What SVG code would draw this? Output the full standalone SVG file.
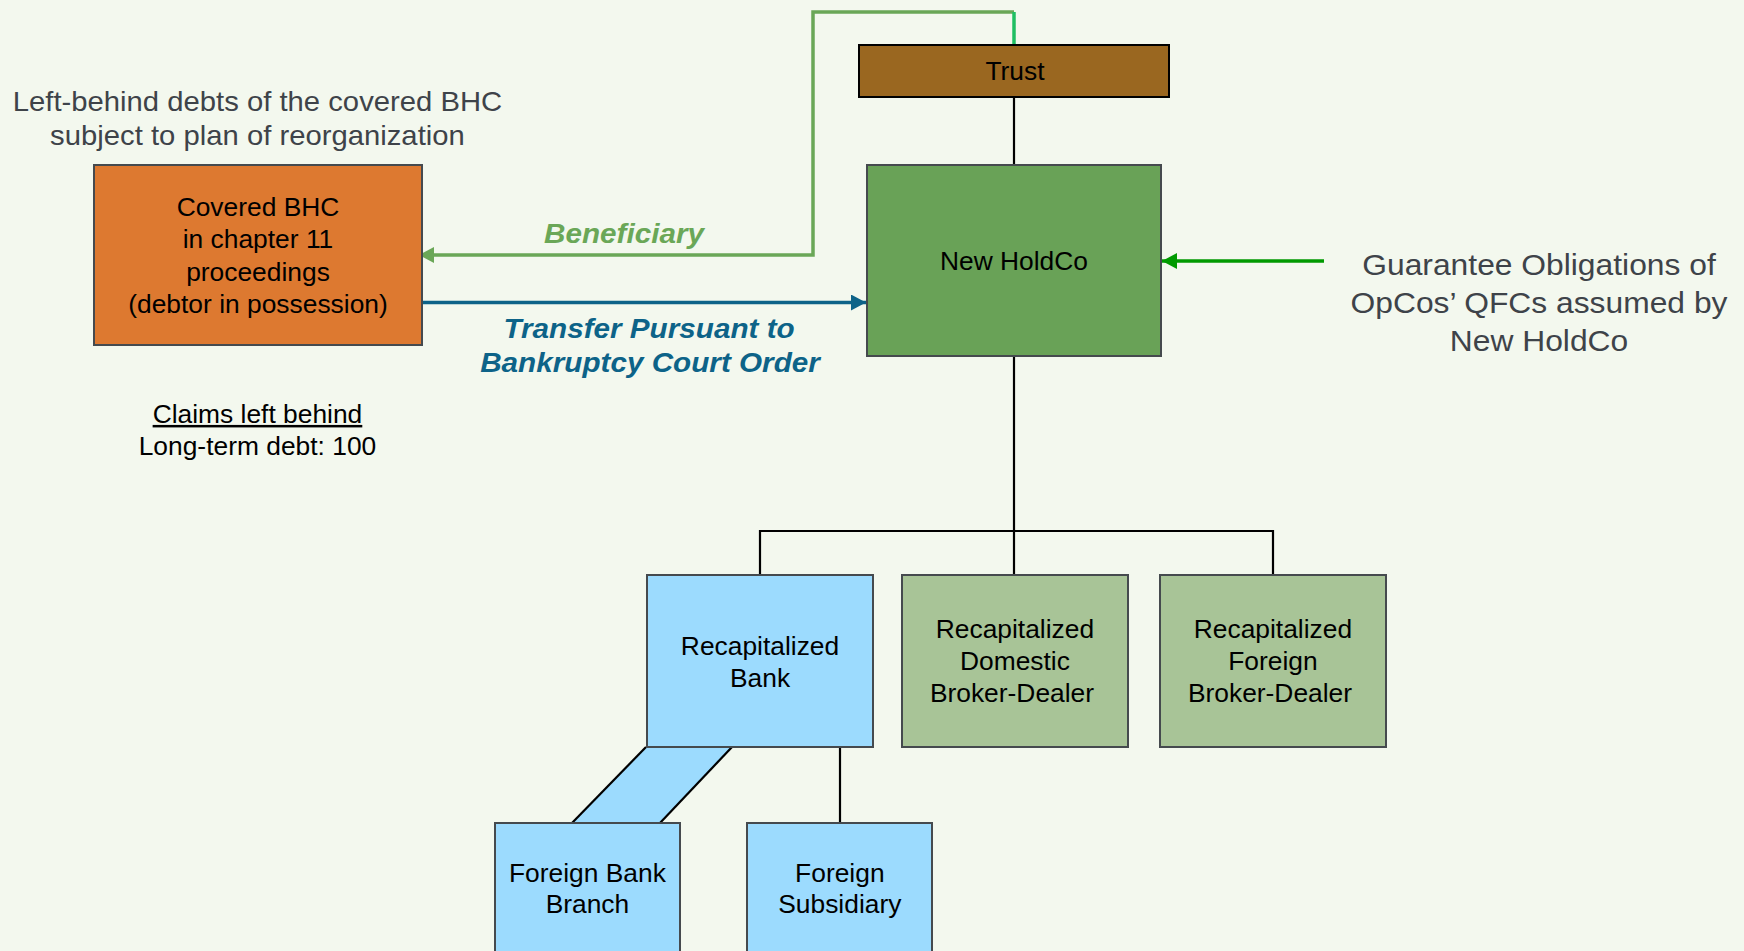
<svg xmlns="http://www.w3.org/2000/svg" width="1744" height="951" viewBox="0 0 1744 951">
<style>
text{font-family:"Liberation Sans",Arial,Helvetica,sans-serif;text-anchor:middle}
.b{font-size:24.9px;fill:#000}
.g{font-size:27.6px;fill:#3e4349}
.gq{font-size:30px;fill:#3e4349}
.lbl{font-size:28px;font-weight:bold;font-style:italic}
.box{stroke:#454a4e;stroke-width:2}
.conn{stroke:#000;stroke-width:2.2;fill:none}
</style>
<defs>
<marker id="ahGreen" markerUnits="userSpaceOnUse" markerWidth="16" markerHeight="16" refX="15" refY="8" orient="auto"><path d="M0,0 L15,8 L0,16 z" fill="#6aa757"/></marker>
<marker id="ahBlue" markerUnits="userSpaceOnUse" markerWidth="16" markerHeight="16" refX="15" refY="8" orient="auto"><path d="M0,0 L15,8 L0,16 z" fill="#0d6388"/></marker>
<marker id="ahDark" markerUnits="userSpaceOnUse" markerWidth="16" markerHeight="16" refX="15" refY="8" orient="auto"><path d="M0,0 L15,8 L0,16 z" fill="#009a00"/></marker>
</defs>
<rect x="0" y="0" width="1744" height="951" fill="#f3f8ee"/>

<g id="connectors">
<polyline points="1014,356 1014,575" class="conn"/>
<line x1="1014" y1="97" x2="1014" y2="165" class="conn"/>
<polyline points="760,575 760,531 1273,531 1273,575" class="conn"/>
<line x1="840" y1="747" x2="840" y2="823" class="conn"/>
<polygon points="646,747 732,747 660,823 572,823" fill="#9cdbfe" stroke="none"/>
<line x1="646" y1="747" x2="572" y2="823" class="conn"/>
<line x1="732" y1="747" x2="660" y2="823" class="conn"/>
<polyline points="1014,12 813,12 813,255 419,255" fill="none" stroke="#6aa757" stroke-width="3.5" marker-end="url(#ahGreen)"/>
<line x1="1014" y1="12" x2="1014" y2="45" stroke="#1fbf62" stroke-width="3.5"/>
<line x1="416" y1="302.5" x2="866" y2="302.5" stroke="#0d6388" stroke-width="3.5" marker-end="url(#ahBlue)"/>
<line x1="1324" y1="261" x2="1162" y2="261" stroke="#009a00" stroke-width="3.5" marker-end="url(#ahDark)"/>
<text class="lbl" fill="#6aa757" transform="scale(1.06 1)" x="588.7" y="243">Beneficiary</text>
<text class="lbl" fill="#0d6388" transform="scale(1.06 1)" x="612.3" y="338">Transfer Pursuant to</text>
<text class="lbl" fill="#0d6388" transform="scale(1.06 1)" x="613.2" y="372">Bankruptcy Court Order</text>
</g>

<g id="left-behind-note">
<text class="g" transform="scale(1.06 1)" x="242.9" y="111">Left-behind debts of the covered BHC</text>
<text class="g" transform="scale(1.06 1)" x="242.9" y="145">subject to plan of reorganization</text>
</g>

<g id="covered-bhc">
<rect x="94" y="165" width="328" height="180" fill="#dd7930" class="box"/>
<text class="b" transform="scale(1.06 1)" x="243.4" y="216">Covered BHC</text>
<text class="b" transform="scale(1.06 1)" x="243.4" y="248.5">in chapter 11</text>
<text class="b" transform="scale(1.06 1)" x="243.4" y="281">proceedings</text>
<text class="b" transform="scale(1.06 1)" x="243.4" y="313">(debtor in possession)</text>
</g>

<g id="claims-note">
<text class="b" transform="scale(1.06 1)" x="242.9" y="423" text-decoration="underline">Claims left behind</text>
<text class="b" transform="scale(1.06 1)" x="242.9" y="455">Long-term debt: 100</text>
</g>

<g id="trust">
<rect x="859" y="45" width="310" height="52" fill="#9a6720" stroke="#000" stroke-width="2"/>
<text class="b" transform="scale(1.06 1)" x="957.5" y="80">Trust</text>
</g>

<g id="new-holdco">
<rect x="867" y="165" width="294" height="191" fill="#69a257" class="box"/>
<text class="b" transform="scale(1.06 1)" x="956.6" y="270">New HoldCo</text>
</g>

<g id="guarantee-note">
<text class="gq" transform="scale(1.06 1)" x="1451.9" y="275">Guarantee Obligations of</text>
<text class="gq" transform="scale(1.06 1)" x="1451.9" y="313">OpCos’ QFCs assumed by</text>
<text class="gq" transform="scale(1.06 1)" x="1451.9" y="351">New HoldCo</text>
</g>

<g id="recap-bank">
<rect x="647" y="575" width="226" height="172" fill="#9cdbfe" class="box"/>
<text class="b" transform="scale(1.06 1)" x="717" y="655">Recapitalized</text>
<text class="b" transform="scale(1.06 1)" x="717" y="687">Bank</text>
</g>

<g id="recap-domestic-bd">
<rect x="902" y="575" width="226" height="172" fill="#a8c497" class="box"/>
<text class="b" transform="scale(1.06 1)" x="957.5" y="638">Recapitalized</text>
<text class="b" transform="scale(1.06 1)" x="957.5" y="670">Domestic</text>
<text class="b" transform="scale(1.06 1)" x="954.7" y="702.5">Broker-Dealer</text>
</g>

<g id="recap-foreign-bd">
<rect x="1160" y="575" width="226" height="172" fill="#a8c497" class="box"/>
<text class="b" transform="scale(1.06 1)" x="1200.9" y="638">Recapitalized</text>
<text class="b" transform="scale(1.06 1)" x="1200.9" y="670">Foreign</text>
<text class="b" transform="scale(1.06 1)" x="1198.1" y="702.5">Broker-Dealer</text>
</g>

<g id="foreign-bank-branch">
<rect x="495" y="823" width="185" height="140" fill="#9cdbfe" class="box"/>
<text class="b" transform="scale(1.06 1)" x="554.2" y="882">Foreign Bank</text>
<text class="b" transform="scale(1.06 1)" x="554.2" y="913">Branch</text>
</g>

<g id="foreign-subsidiary">
<rect x="747" y="823" width="185" height="140" fill="#9cdbfe" class="box"/>
<text class="b" transform="scale(1.06 1)" x="792.3" y="882">Foreign</text>
<text class="b" transform="scale(1.06 1)" x="792.3" y="913">Subsidiary</text>
</g>
</svg>
